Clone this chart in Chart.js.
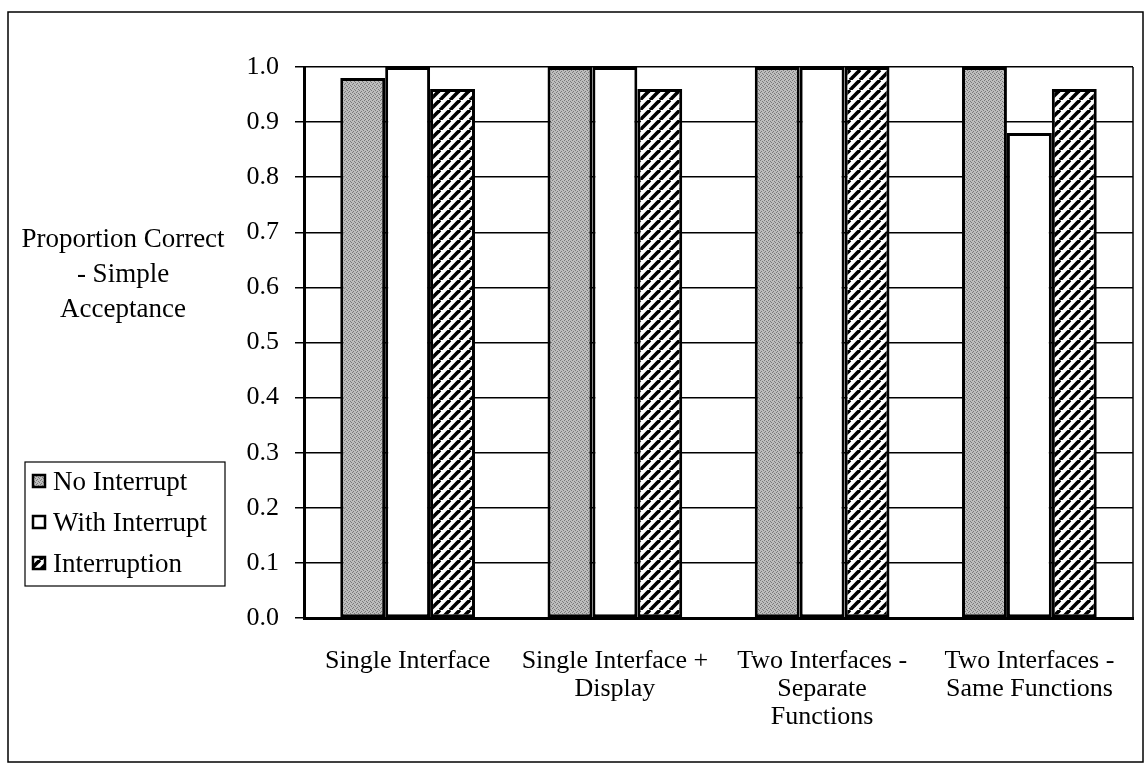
<!DOCTYPE html>
<html>
<head>
<meta charset="utf-8">
<script src="https://cdn.jsdelivr.net/npm/chart.js@4/dist/chart.umd.min.js"></script>
<style>
  html, body { margin: 0; padding: 0; background: #fff; }
  #wrap { width: 1147px; height: 767px; position: relative; }
</style>
</head>
<body>
<div id="wrap"><canvas id="myChart" width="1147" height="767"></canvas></div>
<script>
// chart values
const categories = [
  ["Single Interface"],
  ["Single Interface +", "Display"],
  ["Two Interfaces -", "Separate", "Functions"],
  ["Two Interfaces -", "Same Functions"]
];
const seriesNames = ["No Interrupt", "With Interrupt", "Interruption"];
const noInterrupt = [0.98, 1.0, 1.0, 1.0];
const withInterrupt = [1.0, 1.0, 1.0, 0.88];
const interruption = [0.96, 0.96, 1.0, 0.96];
const yTitle = ["Proportion Correct", "- Simple", "Acceptance"];

const serif = "'Liberation Serif', 'Times New Roman', serif";

// gray stipple fill
function stipple() {
  let c = document.createElement("canvas");
  c.width = 4; c.height = 4;
  let g = c.getContext("2d");
  g.fillStyle = "#bdbdbd";
  g.fillRect(0, 0, 4, 4);
  g.fillStyle = "#7a7a7a";
  g.fillRect(0, 0, 1, 1);
  g.fillRect(2, 1, 1, 1);
  g.fillRect(1, 3, 1, 1);
  g.fillRect(3, 2, 1, 1);
  return g.createPattern(c, "repeat");
}

// "////" stripes
function stripes() {
  let s = 10;
  let c = document.createElement("canvas");
  c.width = s; c.height = s;
  let g = c.getContext("2d");
  g.fillStyle = "#fff";
  g.fillRect(0, 0, s, s);
  g.strokeStyle = "#000";
  g.lineWidth = 3.6;
  for (let o = -s; o <= s; o += s) {
    g.beginPath();
    g.moveTo(o, s);
    g.lineTo(o + s, 0);
    g.stroke();
  }
  return g.createPattern(c, "repeat");
}

const fills = [stipple(), "#ffffff", stripes()];

const extras = {
  id: "extras",
  afterDraw(chart) {
    const ctx = chart.ctx;
    const a = chart.chartArea;
    ctx.save();
    // plot frame right side
    ctx.strokeStyle = "#000";
    ctx.lineWidth = 1.5;
    ctx.beginPath();
    ctx.moveTo(a.right, a.top);
    ctx.lineTo(a.right, a.bottom);
    ctx.stroke();

    // outer frame
    ctx.lineWidth = 1.5;
    ctx.strokeRect(8, 12, 1135, 750);

    // y title, horizontal
    ctx.fillStyle = "#000";
    ctx.font = "27px " + serif;
    ctx.textAlign = "center";
    ctx.textBaseline = "alphabetic";
    for (let i = 0; i < yTitle.length; i++) {
      ctx.fillText(yTitle[i], 123, 247 + i * 35);
    }

    // legend
    ctx.lineWidth = 1.2;
    ctx.strokeRect(25, 462, 200, 124);
    ctx.textAlign = "left";
    for (let i = 0; i < seriesNames.length; i++) {
      let base = 490 + i * 41;
      ctx.fillStyle = fills[i];
      ctx.fillRect(32, base - 16, 14, 14);
      ctx.lineWidth = 2.5;
      ctx.strokeRect(33, base - 15, 12, 12);
      ctx.fillStyle = "#000";
      ctx.fillText(seriesNames[i], 53, base);
    }
    ctx.restore();
  }
};

const datasets = [noInterrupt, withInterrupt, interruption].map((d, i) => ({
  label: seriesNames[i],
  data: d,
  backgroundColor: fills[i],
  borderColor: "#000",
  borderWidth: 3,
  borderSkipped: false,
  categoryPercentage: 0.65,
  barPercentage: 1.0
}));

new Chart(document.getElementById("myChart"), {
  type: "bar",
  data: { labels: categories, datasets: datasets },
  options: {
    responsive: false,
    animation: false,
    layout: { padding: { top: 67, right: 14, left: 0, bottom: 0 } },
    plugins: {
      legend: { display: false },
      tooltip: { enabled: false }
    },
    scales: {
      x: {
        grid: { display: false, drawTicks: false },
        border: { color: "#000", width: 3 },
        ticks: {
          color: "#000",
          padding: 29,
          maxRotation: 0,
          autoSkip: false,
          font: { family: serif, size: 26, lineHeight: 1.08 }
        },
        afterFit(scale) { scale.height = 149; }
      },
      y: {
        min: 0,
        max: 1,
        grid: { color: "#000", lineWidth: 1.5, tickLength: 9, drawTicks: true },
        border: { color: "#000", width: 3 },
        ticks: {
          stepSize: 0.1,
          color: "#000",
          padding: 16,
          font: { family: serif, size: 26 },
          callback: v => v.toFixed(1)
        },
        afterFit(scale) { scale.width = 304; }
      }
    }
  },
  plugins: [extras]
});
</script>
</body>
</html>
